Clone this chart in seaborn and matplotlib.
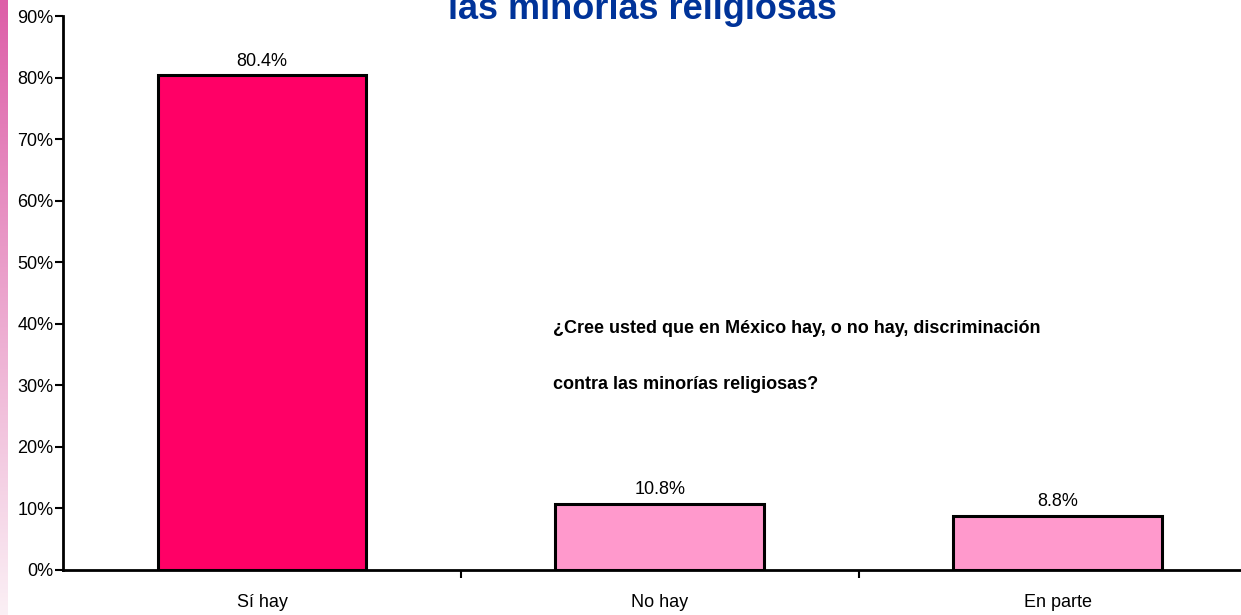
import numpy as np
import pandas as pd
import matplotlib
matplotlib.use('Agg')
import matplotlib.pyplot as plt
import seaborn as sns

# data
categories = ['Sí hay', 'No hay', 'En parte']
values = [80.4, 10.8, 8.8]
bar_colors = ['#FF0066', '#FF99CC', '#FF99CC']
y_ticks = [0, 10, 20, 30, 40, 50, 60, 70, 80, 90]
title_line = 'las minorías religiosas'
question = ['¿Cree usted que en México hay, o no hay, discriminación',
            'contra las minorías religiosas?']

sns.set_theme(style='white')
plt.rcParams['font.family'] = ['Liberation Sans', 'DejaVu Sans']
plt.rcParams['text.color'] = 'black'
plt.rcParams['xtick.color'] = 'black'
plt.rcParams['ytick.color'] = 'black'

df = pd.DataFrame({'categoria': categories, 'pct': values})

fig = plt.figure(figsize=(12.41, 6.15), dpi=100)
fig.patch.set_facecolor('white')

# pink gradient strip on the left edge
strip = fig.add_axes([0, 0, 8 / 1241, 1])
grad = np.linspace(0, 1, 256).reshape(-1, 1)
cmap = matplotlib.colors.LinearSegmentedColormap.from_list('strip', ['#FBF0F5', '#DD5FA8'])
strip.imshow(grad, aspect='auto', cmap=cmap, origin='lower')
strip.axis('off')

ax = fig.add_axes([63 / 1241, 45 / 615, 1 - 63 / 1241, 554 / 615])
sns.barplot(data=df, x='categoria', y='pct', hue='categoria', palette=bar_colors,
            saturation=1, legend=False, width=0.525, edgecolor='black', linewidth=2.2, ax=ax)

for cont in ax.containers:
    ax.bar_label(cont, fmt='%.1f%%', padding=4, fontsize=13, color='black')

ax.set_xlim(-0.5, 2.46)
ax.set_ylim(0, 90)
ax.set_yticks(y_ticks)
ax.set_yticklabels([f'{t}%' for t in y_ticks], fontsize=13)
ax.set_xticks(range(len(categories)))
ax.set_xticklabels(categories, fontsize=13)
ax.set_xticks([0.5, 1.5], minor=True)
ax.tick_params(axis='x', which='major', length=0, pad=17)
ax.tick_params(axis='x', which='minor', length=6, width=1.5, direction='out', color='black', bottom=True)
ax.tick_params(axis='y', length=6, width=1.5, direction='out', color='black', left=True, pad=1)
ax.set_xlabel('')
ax.set_ylabel('')
for side in ['top', 'right']:
    ax.spines[side].set_visible(False)
for side in ['left', 'bottom']:
    ax.spines[side].set_color('black')
    ax.spines[side].set_linewidth(2)

ax.text(0.731, 39.3, question[0], fontsize=13, fontweight='bold', va='center', ha='left')
ax.text(0.731, 30.1, question[1], fontsize=13, fontweight='bold', va='center', ha='left')

# title: only the last line is visible, the rest is above the picture
fig.text(0.518, 1 - 19 / 615, title_line, fontsize=26, fontweight='bold',
         color='#003399', ha='center', va='baseline')

fig.savefig('out.png', dpi=100)
